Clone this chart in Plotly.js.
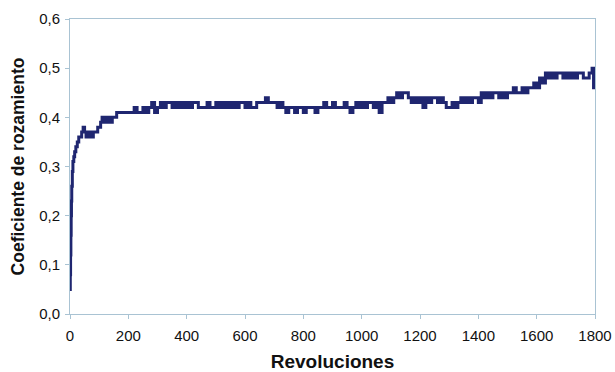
<!DOCTYPE html>
<html>
<head>
<meta charset="utf-8">
<script src="https://cdn.plot.ly/plotly-3.0.1.min.js"></script>
<style>html,body{margin:0;padding:0;background:#fff;}#chart{width:615px;height:372px;}</style>
</head>
<body>
<div id="chart"></div>
<script>
// Revoluciones (x) and coeficiente de rozamiento (y)
const revoluciones = [
  0,1,2,3,4,5,6,8,10,13,16,20,25,30,35,40,45,50,55,60,65,70,75,80,85,90,95,100,105,110,115,120,125,130,135,140,145,150,155,
  160,170,180,190,200,210,220,230,240,250,260,270,280,290,300,
  310,320,330,340,350,360,370,380,390,400,410,420,430,440,450,460,470,480,490,
  500,510,520,530,540,550,560,570,580,590,600,610,620,630,640,650,660,670,680,690,
  700,710,720,730,740,750,760,770,780,790,800,810,820,830,840,850,860,870,880,890,
  900,910,920,930,940,950,960,970,980,990,1000,1010,1020,1030,1040,1050,1060,1070,1080,1090,
  1100,1110,1120,1130,1140,1150,1160,1170,1180,1190,1200,1210,1220,1230,1240,1250,1260,1270,1280,1290,
  1300,1310,1320,1330,1340,1350,1360,1370,1380,1390,1400,1410,1420,1430,1440,1450,1460,1470,1480,1490,
  1500,1510,1520,1530,1540,1550,1560,1570,1580,1590,1600,1610,1620,1630,1640,1650,1660,1670,1680,1690,
  1700,1710,1720,1730,1740,1750,1760,1770,1780,1790,1795,1800
];
const coeficiente = [
  0.05,0.08,0.12,0.16,0.20,0.23,0.26,0.29,0.31,0.32,0.33,0.34,0.35,0.36,0.36,0.37,0.38,0.37,0.36,0.37,0.36,0.37,0.36,0.37,0.37,0.37,0.38,0.38,0.39,0.40,0.39,0.40,0.39,0.40,0.40,0.39,0.40,0.40,0.40,
  0.41,0.41,0.41,0.41,0.41,0.41,0.42,0.41,0.41,0.42,0.41,0.42,0.43,0.41,0.42,
  0.43,0.42,0.43,0.43,0.42,0.43,0.42,0.43,0.42,0.43,0.42,0.43,0.43,0.42,0.42,0.42,0.43,0.42,0.42,
  0.43,0.42,0.43,0.42,0.43,0.42,0.43,0.42,0.43,0.43,0.42,0.43,0.42,0.42,0.43,0.43,0.43,0.44,0.43,0.43,
  0.43,0.42,0.43,0.42,0.41,0.42,0.42,0.41,0.42,0.42,0.41,0.42,0.42,0.42,0.41,0.42,0.42,0.43,0.42,0.42,
  0.43,0.42,0.42,0.42,0.43,0.42,0.41,0.42,0.43,0.42,0.43,0.42,0.43,0.43,0.42,0.43,0.41,0.43,0.43,0.44,
  0.43,0.44,0.45,0.44,0.45,0.45,0.44,0.43,0.44,0.43,0.44,0.42,0.44,0.43,0.44,0.44,0.43,0.44,0.43,0.42,
  0.42,0.43,0.42,0.43,0.44,0.43,0.44,0.43,0.44,0.44,0.43,0.45,0.44,0.45,0.44,0.45,0.45,0.44,0.45,0.44,
  0.45,0.45,0.46,0.45,0.45,0.46,0.45,0.46,0.46,0.47,0.46,0.48,0.47,0.49,0.48,0.49,0.48,0.49,0.49,0.48,
  0.49,0.48,0.49,0.48,0.49,0.49,0.48,0.48,0.49,0.50,0.46,0.46
];
const xTickVals = [0,200,400,600,800,1000,1200,1400,1600,1800];
const yTickVals = [0,0.1,0.2,0.3,0.4,0.5,0.6];
const yTickText = ["0,0","0,1","0,2","0,3","0,4","0,5","0,6"];
const xTitle = "Revoluciones";
const yTitle = "Coeficiente de rozamiento";

const axisColor = "#a9c3d3";
const font = "Liberation Sans, Arial, sans-serif";

Plotly.newPlot("chart", [{
  x: revoluciones,
  y: coeficiente,
  type: "scatter",
  mode: "lines",
  line: {color: "#1f2670", width: 3, shape: "hv"},
  hoverinfo: "skip"
}], {
  width: 615, height: 372,
  margin: {l: 70, r: 20, t: 19, b: 58},
  paper_bgcolor: "#ffffff",
  plot_bgcolor: "#ffffff",
  showlegend: false,
  font: {family: font, color: "#111111", size: 15},
  xaxis: {
    range: [0, 1800],
    tickvals: xTickVals,
    ticks: "outside", ticklen: 4, tickcolor: axisColor, tickwidth: 1,
    ticklabelstandoff: 4,
    showline: true, linecolor: axisColor, linewidth: 1, mirror: true,
    showgrid: false, zeroline: false,
    tickfont: {family: font, size: 15, color: "#111111"},
    title: {text: xTitle, font: {family: font, size: 19, color: "#111111", weight: "bold"}, standoff: 13}
  },
  yaxis: {
    range: [0, 0.6],
    tickvals: yTickVals, ticktext: yTickText,
    ticks: "outside", ticklen: 4, tickcolor: axisColor, tickwidth: 1,
    ticklabelstandoff: 2,
    showline: true, linecolor: axisColor, linewidth: 1, mirror: true,
    showgrid: false, zeroline: false,
    tickfont: {family: font, size: 15, color: "#111111"},
    title: {text: yTitle, font: {family: font, size: 17.5, color: "#111111", weight: "bold"}, standoff: 10}
  }
}, {displayModeBar: false, staticPlot: true});
</script>
</body>
</html>
